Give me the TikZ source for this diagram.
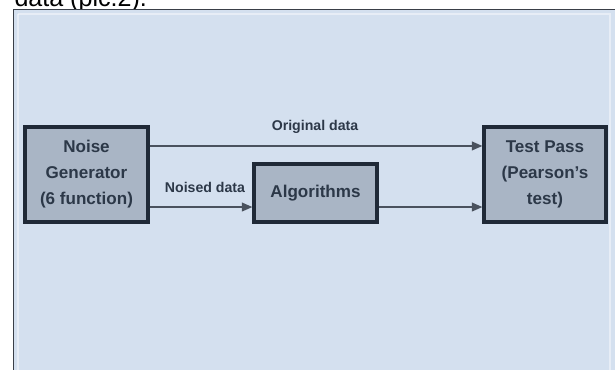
\documentclass[tikz,border=0pt]{standalone}
\usepackage{fontspec}
\setmainfont{Liberation Sans}
\usetikzlibrary{arrows.meta,positioning}

\definecolor{panelbg}{HTML}{D4E0EF}
\definecolor{boxfill}{HTML}{A9B5C5}
\definecolor{boxline}{HTML}{1F2937}
\definecolor{inktext}{HTML}{2C3848}
\definecolor{flowline}{HTML}{4A525E}

\tikzset{every picture/.style={line width=0.75pt}}
\tikzset{
  blockbox/.style={draw=boxline, line width=2.3pt, fill=boxfill, text=inktext,
    font=\fontsize{12.8}{19.5}\selectfont\bfseries, align=center, inner sep=0pt},
  flow/.style={draw=flowline, line width=1.5pt, -{Triangle[length=8pt,width=6.5pt]}},
  flowlabel/.style={text=inktext, font=\fontsize{10.6}{13}\selectfont\bfseries, inner sep=0pt}
}

\begin{document}
\begin{tikzpicture}[x=0.75pt,y=0.75pt,yscale=-1,xscale=1]
	\useasboundingbox (0,0) rectangle (615,370);

	% Caption line above the panel, cut by the page edge
	\node (caption) [anchor=base west, inner sep=0pt, font=\fontsize{18.8}{20}\selectfont] at (14,7) {data (pic.2).};

	%Shape: Panel
	\fill [panelbg] (13,9) rectangle (615,370);
	\draw [color={rgb, 255:red, 58; green, 63; blue, 72}, line width=1.2pt] (13.5,370) -- (13.5,9.5) -- (615,9.5);
	\draw [color=white, opacity=0.45, line width=1pt] (18,14) -- (610,14) -- (610,370);
	\draw [color=white, opacity=0.45, line width=1pt] (18,370) -- (18,14);

	%Blocks
	\node (gen) [blockbox, minimum width=92.25pt, minimum height=71.25pt] at (86.5,174.5) {Noise\\Generator\\(6 function)};
	\node (alg) [blockbox, minimum width=92.25pt, minimum height=43.5pt] at (315.5,193) {Algorithms};
	\node (test) [blockbox, minimum width=91.5pt, minimum height=71.25pt] at (545,174.5) {Test Pass\\(Pearson's\\test)};

	%Connectors (yshift runs downwards here, since yscale=-1)
	\coordinate (orig) at ([yshift=-21.4pt]gen.east);
	\coordinate (noised) at ([yshift=24.4pt]gen.east);
	\draw [flow] (orig) -- (orig -| test.west);
	\draw [flow] (noised) -- (noised -| alg.west);
	\draw [flow] (noised -| alg.east) -- (noised -| test.west);

	% Text Node
	\node (origlbl) [flowlabel] at (315,127) {Original data};
	% Text Node
	\node (noisedlbl) [flowlabel] at (205,187) {Noised data};

\end{tikzpicture}
\end{document}
